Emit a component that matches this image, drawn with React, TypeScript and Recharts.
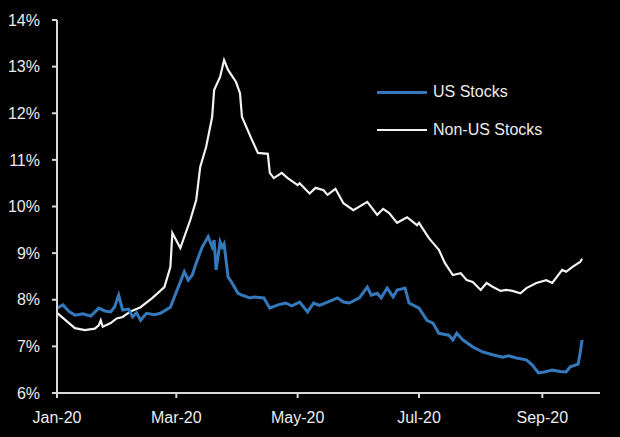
import { Line, LineChart, XAxis, YAxis } from 'recharts';

// day offsets from 1 Jan 2020 and implied volatility (%)
const usDays = [0, 3, 6, 9, 13, 17, 21, 24, 27, 29, 31, 33, 36, 38, 40, 42, 45, 49, 52, 57, 59, 63, 64, 66, 68, 70, 73, 76, 78, 79, 80, 82, 83, 84, 86, 88, 91, 93, 97, 99, 104, 107, 111, 115, 118, 122, 126, 129, 132, 136, 141, 144, 147, 152, 156, 158, 161, 163, 166, 169, 171, 175, 177, 182, 186, 189, 192, 197, 199, 201, 204, 209, 214, 219, 224, 227, 231, 236, 239, 242, 245, 249, 253, 256, 258, 262, 263, 264];
const usValues = [7.82, 7.89, 7.75, 7.67, 7.7, 7.65, 7.82, 7.76, 7.74, 7.85, 8.1, 7.78, 7.8, 7.63, 7.72, 7.56, 7.71, 7.68, 7.71, 7.84, 8.06, 8.49, 8.6, 8.42, 8.53, 8.79, 9.13, 9.35, 9.13, 9.28, 8.64, 9.24, 9.13, 9.2, 8.49, 8.36, 8.14, 8.1, 8.04, 8.06, 8.04, 7.82, 7.89, 7.93, 7.87, 7.95, 7.74, 7.93, 7.88, 7.95, 8.04, 7.95, 7.93, 8.04, 8.27, 8.1, 8.14, 8.04, 8.25, 8.06, 8.21, 8.25, 7.93, 7.82, 7.56, 7.5, 7.28, 7.24, 7.14, 7.28, 7.14, 6.99, 6.88, 6.82, 6.77, 6.8, 6.75, 6.71, 6.6, 6.43, 6.45, 6.49, 6.46, 6.45, 6.56, 6.62, 6.85, 7.14];

const nonUsDays = [0, 9, 14, 19, 21, 22, 23, 27, 30, 33, 37, 42, 48, 54, 57, 58, 62, 67, 70, 72, 75, 78, 79, 82, 84, 86, 90, 92, 93, 98, 101, 106, 107, 109, 113, 116, 121, 122, 127, 130, 134, 136, 140, 144, 149, 156, 161, 164, 167, 171, 176, 181, 182, 187, 189, 192, 195, 199, 203, 206, 209, 213, 216, 219, 223, 226, 229, 233, 236, 241, 246, 249, 254, 256, 259, 263, 264];
const nonUsValues = [7.72, 7.39, 7.35, 7.38, 7.45, 7.56, 7.42, 7.5, 7.6, 7.63, 7.75, 7.84, 8.04, 8.27, 8.7, 9.43, 9.11, 9.71, 10.14, 10.85, 11.28, 11.92, 12.5, 12.78, 13.14, 12.93, 12.67, 12.43, 11.92, 11.43, 11.15, 11.13, 10.72, 10.61, 10.72, 10.61, 10.46, 10.5, 10.28, 10.4, 10.35, 10.25, 10.38, 10.07, 9.92, 10.1, 9.82, 9.95, 9.86, 9.65, 9.77, 9.6, 9.65, 9.32, 9.22, 9.07, 8.79, 8.53, 8.57, 8.42, 8.38, 8.21, 8.36, 8.28, 8.19, 8.21, 8.19, 8.14, 8.25, 8.36, 8.42, 8.36, 8.64, 8.6, 8.7, 8.81, 8.88];

const xTicks = [0, 60, 121, 182, 244];
const xTickLabels = ['Jan-20', 'Mar-20', 'May-20', 'Jul-20', 'Sep-20'];
const yTicks = [6, 7, 8, 9, 10, 11, 12, 13, 14];

const usData = usDays.map((day, i) => ({ day, value: usValues[i] }));
const nonUsData = nonUsDays.map((day, i) => ({ day, value: nonUsValues[i] }));

const font = '"Liberation Sans", Arial, sans-serif';
const axisColor = '#d9d9d9';
const textColor = '#ececec';
const blue = '#3579bd';
const white = '#f2f2f2';

function LegendBox() {
  const row = (color: string, width: number, label: string) => (
    <div style={{ display: 'flex', alignItems: 'center', height: 38 }}>
      <div style={{ width: 50, height: width, background: color, marginRight: 6 }} />
      <span style={{ color: textColor, fontSize: 16, fontFamily: font }}>{label}</span>
    </div>
  );
  return (
    <div style={{ position: 'absolute', left: 377, top: 73 }}>
      {row(blue, 3, 'US Stocks')}
      {row(white, 2, 'Non-US Stocks')}
    </div>
  );
}

export default function App() {
  return (
    <div style={{ position: 'absolute', left: 0, top: 0, width: 620, height: 437, background: '#000' }}>
      <LineChart width={620} height={437} margin={{ top: 20, right: 20, bottom: 14, left: 0 }}>
        <XAxis
          dataKey="day"
          type="number"
          domain={[0, 273]}
          ticks={xTicks}
          height={30}
          tickFormatter={(v: number) => xTickLabels[xTicks.indexOf(v)]}
          allowDuplicatedCategory={false}
          stroke={axisColor}
          strokeWidth={2}
          tickSize={5}
          tickMargin={14}
          tick={{ fill: textColor, fontSize: 16, fontFamily: font }}
        />
        <YAxis
          width={57}
          domain={[6, 14]}
          ticks={yTicks}
          tickFormatter={(v: number) => `${v}%`}
          stroke={axisColor}
          strokeWidth={2}
          tickSize={5}
          tickMargin={12}
          tick={{ fill: textColor, fontSize: 16, fontFamily: font }}
        />
        <Line
          data={nonUsData}
          dataKey="value"
          type="linear"
          stroke={white}
          strokeWidth={2.2}
          dot={false}
          isAnimationActive={false}
        />
        <Line
          data={usData}
          dataKey="value"
          type="linear"
          stroke={blue}
          strokeWidth={3}
          dot={false}
          isAnimationActive={false}
        />
      </LineChart>
      <LegendBox />
    </div>
  );
}
